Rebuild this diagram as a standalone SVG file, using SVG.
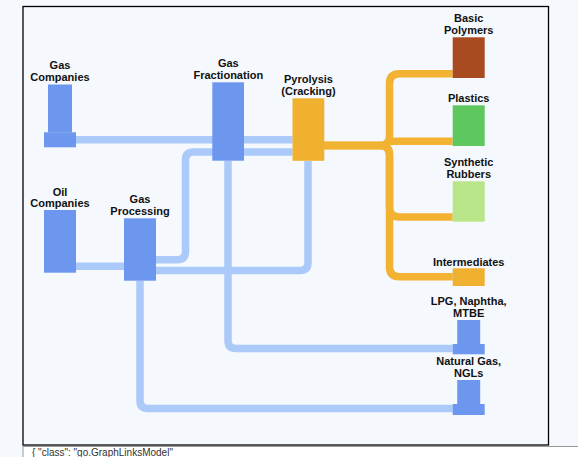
<svg xmlns="http://www.w3.org/2000/svg" width="578" height="457" viewBox="0 0 578 457">
<style>
.lbl{font-family:"Liberation Sans",Arial,sans-serif;font-size:11px;font-weight:bold;fill:#111;text-anchor:middle}
.blue{fill:#6d97ef}
.orange{fill:#f0b030}
.lb{fill:none;stroke:#abc9f9;stroke-width:7.5}
.lo{fill:none;stroke:#f2b232;stroke-width:7.5}
</style>
<rect x="0" y="0" width="578" height="457" fill="#f5f8fd"/>
<rect x="23" y="446.5" width="555" height="11" fill="#ffffff"/>
<line x1="23" y1="446.5" x2="578" y2="446.5" stroke="#999" stroke-width="1"/>
<line x1="23" y1="446" x2="23" y2="457" stroke="#999" stroke-width="1"/>
<text x="32" y="455.5" font-family="'Liberation Sans',Arial,sans-serif" font-size="10" fill="#333">{ "class": "go.GraphLinksModel"</text>
<rect x="23" y="6.5" width="525.5" height="438.5" fill="#f5f8fd" stroke="#000" stroke-width="1.3"/>

<g id="links">
<path class="lb" d="M76,139.7 H292.5"/>
<path class="lb" d="M156,259.7 H177.5 Q185.5,259.7 185.5,251.7 V160 Q185.5,152 193.5,152 H292.5"/>
<path class="lb" d="M156,270.5 H300 Q308,270.5 308,262.5 V161"/>
<path class="lb" d="M228,160.7 V340.5 Q228,348.5 236,348.5 H452.7"/>
<path class="lb" d="M140,280.7 V400.5 Q140,408.5 148,408.5 H452.7"/>
<path class="lb" d="M75.7,266.3 H124"/>
<path class="lo" d="M324.3,145.5 H380 Q389.5,145.5 389.5,136 V83.7 Q389.5,73.7 399.5,73.7 H452.7"/>
<path class="lo" d="M324.3,145.5 H383 C387,145.5 387,141.3 391,141.3 H452.7"/>
<path class="lo" d="M324.3,145.5 H380 Q389.5,145.5 389.5,155 V207 Q389.5,217 399.5,217 H452.7"/>
<path class="lo" d="M324.3,145.5 H380 Q389.5,145.5 389.5,155 V266.7 Q389.5,276.7 399.5,276.7 H452.7"/>
</g>

<g id="gas-companies">
<rect class="blue" x="48" y="84.5" width="24" height="48"/>
<rect class="blue" x="44" y="132.3" width="32" height="15"/>
<text class="lbl" x="60" y="69">Gas</text>
<text class="lbl" x="60" y="81">Companies</text>
</g>
<g id="oil-companies">
<rect class="blue" x="44" y="210" width="32" height="62.7"/>
<text class="lbl" x="60" y="195.5">Oil</text>
<text class="lbl" x="60" y="207">Companies</text>
</g>
<g id="gas-processing">
<rect class="blue" x="124" y="218.3" width="32" height="62.4"/>
<text class="lbl" x="140" y="203.3">Gas</text>
<text class="lbl" x="140" y="215">Processing</text>
</g>
<g id="gas-fractionation">
<rect class="blue" x="212.3" y="82.3" width="31.7" height="78.4"/>
<text class="lbl" x="228.3" y="67.3">Gas</text>
<text class="lbl" x="228.3" y="79">Fractionation</text>
</g>
<g id="pyrolysis">
<rect class="orange" x="292.5" y="98.3" width="31.8" height="62.5"/>
<text class="lbl" x="308.5" y="83">Pyrolysis</text>
<text class="lbl" x="308.5" y="95">(Cracking)</text>
</g>
<g id="basic-polymers">
<rect x="452.7" y="37.3" width="32" height="40.7" fill="#a94b21"/>
<text class="lbl" x="468.7" y="22.3">Basic</text>
<text class="lbl" x="468.7" y="34">Polymers</text>
</g>
<g id="plastics">
<rect x="452.7" y="105.3" width="32" height="40.7" fill="#5ec85f"/>
<text class="lbl" x="468.7" y="102.3">Plastics</text>
</g>
<g id="synthetic-rubbers">
<rect x="452.7" y="181.3" width="32" height="40.4" fill="#b9e589"/>
<text class="lbl" x="468.7" y="166.3">Synthetic</text>
<text class="lbl" x="468.7" y="178">Rubbers</text>
</g>
<g id="intermediates">
<rect class="orange" x="452.7" y="268.3" width="32" height="17.7"/>
<text class="lbl" x="468.7" y="265.8">Intermediates</text>
</g>
<g id="lpg-naphtha-mtbe">
<rect class="blue" x="457.2" y="320" width="23" height="24.5"/>
<rect class="blue" x="452.7" y="344" width="32" height="10.3"/>
<text class="lbl" x="468.7" y="305.2">LPG, Naphtha,</text>
<text class="lbl" x="468.7" y="316.7">MTBE</text>
</g>
<g id="natural-gas-ngls">
<rect class="blue" x="457.2" y="380" width="23" height="24.5"/>
<rect class="blue" x="452.7" y="404" width="32" height="11"/>
<text class="lbl" x="468.7" y="364.7">Natural Gas,</text>
<text class="lbl" x="468.7" y="376.5">NGLs</text>
</g>
</svg>
